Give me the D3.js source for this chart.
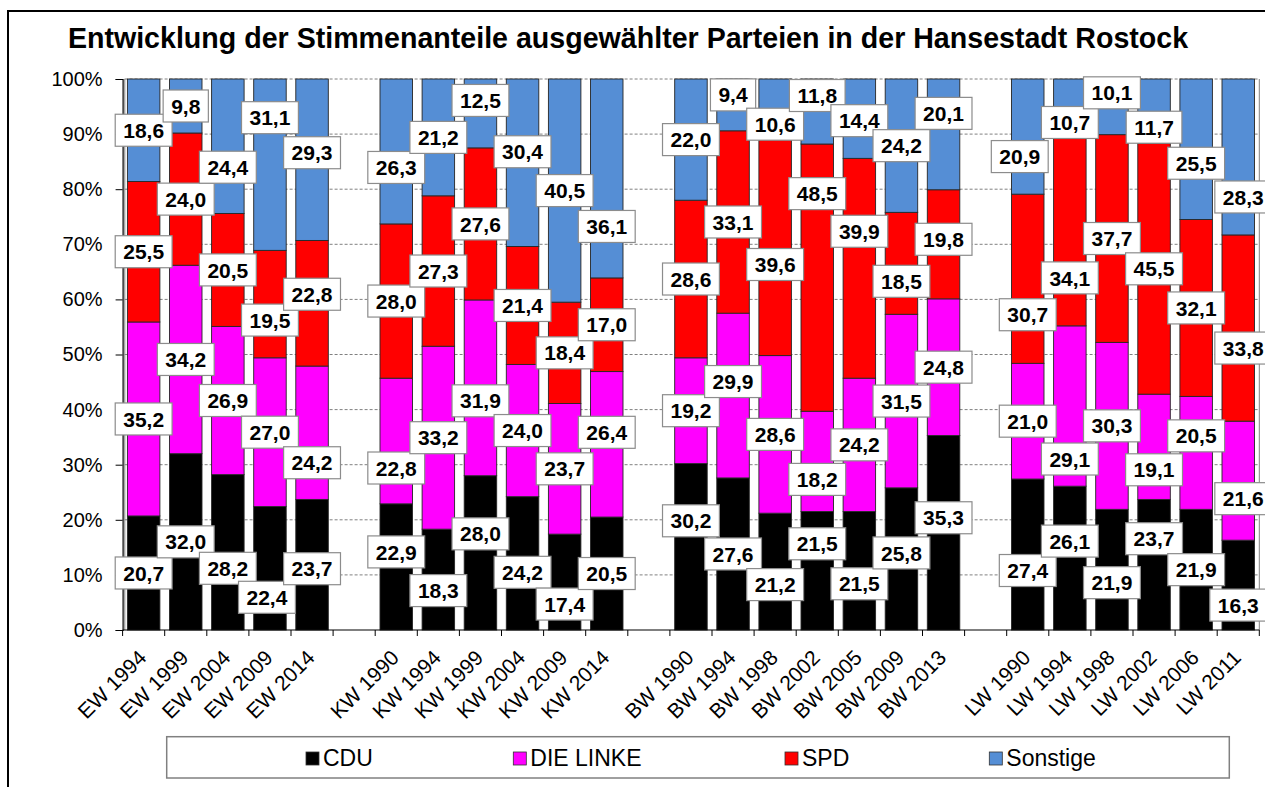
<!DOCTYPE html>
<html>
<head>
<meta charset="utf-8">
<script src="https://cdn.jsdelivr.net/npm/d3@7"></script>
<style>
  html, body { margin: 0; padding: 0; background: #fff; }
  svg { display: block; }
  text { font-family: "Liberation Sans", Arial, sans-serif; }
</style>
</head>
<body>
<svg id="chart" width="1265" height="787"></svg>
<script>
// ---------- DATA ----------
const title = "Entwicklung der Stimmenanteile ausgewählter Parteien in der Hansestadt Rostock";
const categories = ["EW 1994","EW 1999","EW 2004","EW 2009","EW 2014","",
  "KW 1990","KW 1994","KW 1999","KW 2004","KW 2009","KW 2014","",
  "BW 1990","BW 1994","BW 1998","BW 2002","BW 2005","BW 2009","BW 2013","",
  "LW 1990","LW 1994","LW 1998","LW 2002","LW 2006","LW 2011"];
const seriesNames = ["CDU","DIE LINKE","SPD","Sonstige"];
const cdu      = [20.7,32.0,28.2,22.4,23.7,null,22.9,18.3,28.0,24.2,17.4,20.5,null,30.2,27.6,21.2,21.5,21.5,25.8,35.3,null,27.4,26.1,21.9,23.7,21.9,16.3];
const linke    = [35.2,34.2,26.9,27.0,24.2,null,22.8,33.2,31.9,24.0,23.7,26.4,null,19.2,29.9,28.6,18.2,24.2,31.5,24.8,null,21.0,29.1,30.3,19.1,20.5,21.6];
const spd      = [25.5,24.0,20.5,19.5,22.8,null,28.0,27.3,27.6,21.4,18.4,17.0,null,28.6,33.1,39.6,48.5,39.9,18.5,19.8,null,30.7,34.1,37.7,45.5,32.1,33.8];
const sonstige = [18.6,9.8,24.4,31.1,29.3,null,26.3,21.2,12.5,30.4,40.5,36.1,null,22.0,9.4,10.6,11.8,14.4,24.2,20.1,null,20.9,10.7,10.1,11.7,25.5,28.3];
const yTickValues = [0,0.1,0.2,0.3,0.4,0.5,0.6,0.7,0.8,0.9,1.0];
const yTickLabels = ["0%","10%","20%","30%","40%","50%","60%","70%","80%","90%","100%"];

// ---------- LAYOUT / STYLE ----------
const colors = {"CDU":"#000000","DIE LINKE":"#FF00FF","SPD":"#FF0000","Sonstige":"#558ED5"};
// manual label displacements as placed in the original (px; +dy = down)
const labelDy = {
  "EW 2004": {"Sonstige":21, "CDU":16},
  "EW 2009": {"Sonstige":-47, "SPD":16, "CDU":29},
  "EW 2014": {"Sonstige":-7, "SPD":-9, "DIE LINKE":30, "CDU":4},
  "KW 1990": {"Sonstige":16, "DIE LINKE":27, "CDU":-15},
  "KW 1994": {"CDU":11},
  "KW 1999": {"Sonstige":-13, "DIE LINKE":13, "CDU":-19},
  "KW 2004": {"Sonstige":-11, "CDU":9},
  "KW 2009": {"CDU":22},
  "KW 2014": {"Sonstige":48, "DIE LINKE":-12},
  "BW 1990": {"CDU":-26},
  "BW 1994": {"Sonstige":-10, "DIE LINKE":-14},
  "BW 1998": {"Sonstige":16, "SPD":18, "CDU":13},
  "BW 2002": {"Sonstige":-16, "SPD":-84, "DIE LINKE":18, "CDU":-27},
  "BW 2005": {"Sonstige":2, "SPD":-37, "CDU":13},
  "BW 2009": {"SPD":18, "CDU":-6},
  "BW 2013": {"Sonstige":-21, "SPD":-5, "CDU":-15},
  "LW 1990": {"Sonstige":20, "SPD":36, "CDU":16},
  "LW 1994": {"Sonstige":14, "SPD":46, "DIE LINKE":53, "CDU":-17},
  "LW 1998": {"Sonstige":-14, "CDU":13},
  "LW 2002": {"Sonstige":16, "DIE LINKE":23, "CDU":-26},
  "LW 2006": {"Sonstige":14, "DIE LINKE":-17},
  "LW 2011": {"Sonstige":40, "SPD":20, "DIE LINKE":18, "CDU":20}
};
const labelDx = {
  "EW 2009": {"CDU":-3},
  "LW 1990": {"Sonstige":-8},
  "LW 2011": {"Sonstige":5, "SPD":5, "DIE LINKE":5, "CDU":0}
};

const plot = {left: 122.6, right: 1259.3, top: 79, bottom: 630};

const svg = d3.select("#chart");

// outer frame
svg.append("rect").attr("x",8).attr("y",11).attr("width",1270).attr("height",800)
  .attr("fill","#fff").attr("stroke","#000").attr("stroke-width",2);

// title
svg.append("text").attr("x",628).attr("y",48).attr("text-anchor","middle")
  .attr("font-size",28.6).attr("font-weight","bold").attr("fill","#000").text(title);

// scales
const idx = d3.range(categories.length);
const x = d3.scaleBand().domain(idx).range([plot.left, plot.right])
  .paddingInner(0.228).paddingOuter(0.114);
const y = d3.scaleLinear().domain([0,1]).range([plot.bottom, plot.top]);

// data table for the stack
const table = idx.map(i => ({
  i, cat: categories[i],
  "CDU": cdu[i] ?? 0, "DIE LINKE": linke[i] ?? 0, "SPD": spd[i] ?? 0, "Sonstige": sonstige[i] ?? 0,
  empty: cdu[i] == null
}));
const stack = d3.stack().keys(seriesNames).offset(d3.stackOffsetExpand);
const stacked = stack(table);

// gridlines
const grid = svg.append("g");
yTickValues.slice(1).forEach(v => {
  grid.append("line").attr("x1",plot.left+2).attr("x2",plot.right)
    .attr("y1",y(v)).attr("y2",y(v))
    .attr("stroke","#808080").attr("stroke-width",1).attr("stroke-dasharray","3,2");
});
// plot area side borders
grid.append("line").attr("x1",124.8).attr("x2",124.8).attr("y1",plot.top).attr("y2",plot.bottom)
  .attr("stroke","#808080").attr("stroke-width",1);
grid.append("line").attr("x1",plot.right).attr("x2",plot.right).attr("y1",plot.top).attr("y2",plot.bottom)
  .attr("stroke","#808080").attr("stroke-width",1);

// bars
const barsG = svg.append("g");
stacked.forEach(layer => {
  barsG.append("g").selectAll("rect")
    .data(layer.filter(d => !d.data.empty))
    .join("rect")
    .attr("x", d => x(d.data.i))
    .attr("width", x.bandwidth())
    .attr("y", d => y(d[1]))
    .attr("height", d => y(d[0]) - y(d[1]))
    .attr("fill", colors[layer.key])
    .attr("stroke", "#262626").attr("stroke-width", 0.9);
});

// y axis
const yAxisG = svg.append("g").attr("transform",`translate(${plot.left},0)`)
  .call(d3.axisLeft(y).tickValues(yTickValues).tickFormat((d,k) => yTickLabels[k]).tickSize(7).tickPadding(13));
yAxisG.select(".domain").attr("stroke","#000").attr("stroke-width",1.2);
yAxisG.selectAll(".tick line").attr("stroke","#000");
yAxisG.selectAll(".tick text").attr("font-size",20).attr("fill","#000")
  .attr("font-family","\"Liberation Sans\", Arial, sans-serif");

// x axis line + ticks at category boundaries
const step = x.step();
const x0 = plot.left;
svg.append("line").attr("x1",plot.left).attr("x2",plot.right).attr("y1",plot.bottom).attr("y2",plot.bottom)
  .attr("stroke","#000").attr("stroke-width",1.2);
d3.range(categories.length + 1).forEach(k => {
  const xx = x0 + k * step;
  svg.append("line").attr("x1",xx).attr("x2",xx).attr("y1",plot.bottom).attr("y2",plot.bottom+6)
    .attr("stroke","#000").attr("stroke-width",1);
});
// x labels
idx.forEach(i => {
  if (!categories[i]) return;
  const cx = x(i) + x.bandwidth()/2;
  svg.append("text")
    .attr("transform", `translate(${cx+4},${659}) rotate(-45)`)
    .attr("text-anchor","end").attr("font-size",21).attr("fill","#000")
    .text(categories[i]);
});

// data labels
const labelsG = svg.append("g");
const fmt = v => d3.format(".1f")(v).replace(".", ",");
const rawBy = {"CDU":cdu,"DIE LINKE":linke,"SPD":spd,"Sonstige":sonstige};
stacked.forEach(layer => {
  layer.forEach(d => {
    if (d.data.empty) return;
    const cat = d.data.cat;
    const key = layer.key;
    const dy = (labelDy[cat] && labelDy[cat][key]) || 0;
    const dx = (labelDx[cat] && labelDx[cat][key]) || 0;
    const cx = x(d.data.i) + x.bandwidth()/2 + dx;
    const cy = (y(d[0]) + y(d[1]))/2 + dy;
    const g = labelsG.append("g");
    const rect = g.append("rect").attr("fill","#fff").attr("stroke","#8c8c8c").attr("stroke-width",1.2);
    const t = g.append("text").attr("x",cx).attr("y",cy+7.6).attr("text-anchor","middle")
      .attr("font-size",21).attr("font-weight","bold").attr("fill","#000")
      .text(fmt(rawBy[key][d.data.i]));
    const tw = t.node().getComputedTextLength();
    const bw = tw + 16, bh = 32;
    rect.attr("x",cx-bw/2).attr("y",cy-bh/2).attr("width",bw).attr("height",bh);
  });
});

// legend
const lg = svg.append("g");
lg.append("rect").attr("x",166.7).attr("y",736.7).attr("width",1062.6).attr("height",41.3)
  .attr("fill","#fff").attr("stroke","#808080").attr("stroke-width",1.5);
const legendX = [306, 513.3, 785, 989.3];
seriesNames.forEach((s,k) => {
  lg.append("rect").attr("x",legendX[k]).attr("y",752).attr("width",13).attr("height",13)
    .attr("fill",colors[s]).attr("stroke","#333").attr("stroke-width",0.8);
  lg.append("text").attr("x",legendX[k]+17).attr("y",765.5).attr("font-size",23).attr("fill","#000").text(s);
});
</script>
</body>
</html>
